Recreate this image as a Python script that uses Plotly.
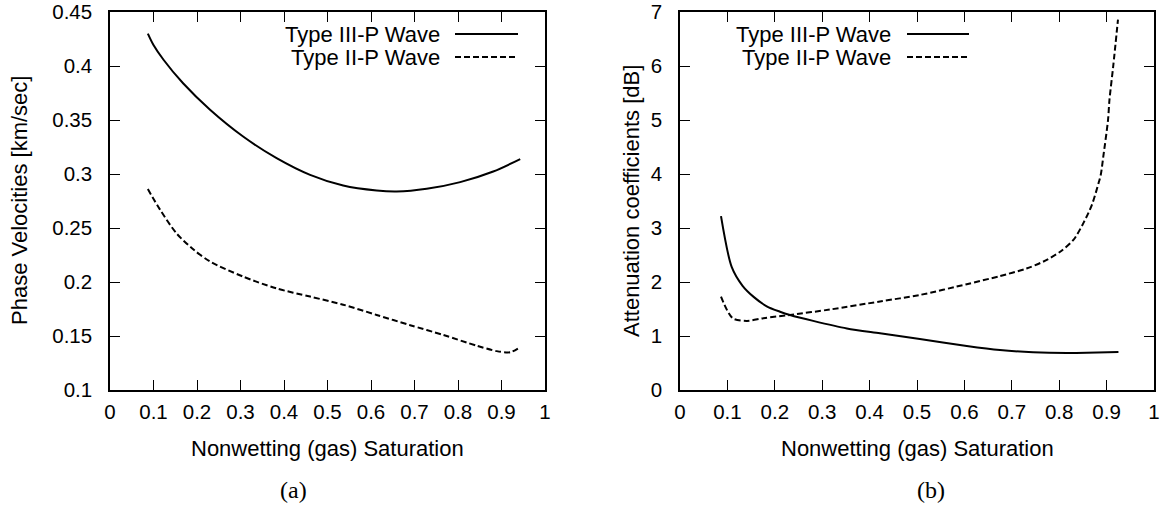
import plotly.graph_objects as go

# ---------------- data ----------------
# Panel (a): phase velocities [km/sec]
sat_a_III = [0.087, 0.0996, 0.123, 0.168, 0.230, 0.306, 0.383, 0.460, 0.536, 0.613, 0.659, 0.728, 0.805, 0.881, 0.943]
vel_III = [0.430, 0.4197, 0.4058, 0.384, 0.3595, 0.3347, 0.3147, 0.2992, 0.2893, 0.2847, 0.2838, 0.2863, 0.2925, 0.3023, 0.3138]

sat_a_II = [0.087, 0.115, 0.153, 0.192, 0.230, 0.306, 0.383, 0.460, 0.536, 0.613, 0.690, 0.766, 0.843, 0.889, 0.920, 0.944]
vel_II = [0.286, 0.267, 0.245, 0.230, 0.219, 0.205, 0.194, 0.1865, 0.179, 0.1695, 0.160, 0.151, 0.141, 0.136, 0.135, 0.140]

# Panel (b): attenuation coefficients [dB]
sat_b_III = [0.0865, 0.109, 0.132, 0.156, 0.183, 0.211, 0.232, 0.281, 0.352, 0.422, 0.506, 0.605, 0.675, 0.745, 0.816, 0.858, 0.925]
att_III = [3.22, 2.28, 1.93, 1.72, 1.55, 1.45, 1.39, 1.28, 1.14, 1.05, 0.944, 0.815, 0.74, 0.700, 0.686, 0.69, 0.706]

sat_b_II = [0.0865, 0.111, 0.141, 0.176, 0.232, 0.316, 0.422, 0.506, 0.605, 0.675, 0.731, 0.767, 0.802, 0.830, 0.851, 0.869, 0.883, 0.888, 0.893, 0.903, 0.906, 0.914, 0.924]
att_II = [1.73, 1.33, 1.28, 1.33, 1.39, 1.49, 1.64, 1.76, 1.96, 2.11, 2.25, 2.38, 2.56, 2.78, 3.09, 3.43, 3.83, 4.0, 4.32, 5.0, 5.37, 6.0, 6.86]

x_ticks = [0, 0.1, 0.2, 0.3, 0.4, 0.5, 0.6, 0.7, 0.8, 0.9, 1]
x_tick_labels = ["0", "0.1", "0.2", "0.3", "0.4", "0.5", "0.6", "0.7", "0.8", "0.9", "1"]
ya_ticks = [0.1, 0.15, 0.2, 0.25, 0.3, 0.35, 0.4, 0.45]
ya_tick_labels = ["0.1", "0.15", "0.2", "0.25", "0.3", "0.35", "0.4", "0.45"]
yb_ticks = [0, 1, 2, 3, 4, 5, 6, 7]
yb_tick_labels = ["0", "1", "2", "3", "4", "5", "6", "7"]

series_names = ["Type III-P Wave", "Type II-P Wave"]
x_title = "Nonwetting (gas) Saturation"
ya_title = "Phase Velocities [km/sec]"
yb_title = "Attenuation coefficients [dB]"
captions = ["(a)", "(b)"]

# ---------------- figure ----------------
W, H = 1176, 512
FONT = "Liberation Sans, Arial, Helvetica, sans-serif"
SERIF = "Liberation Serif, Times New Roman, serif"
FS = 22
FS_TICK = 20.5
DASH = "6px,3px"

fig = go.Figure()

def line_trace(x, y, xa, ya, dash):
    return go.Scatter(x=x, y=y, xaxis=xa, yaxis=ya, mode="lines",
                      line=dict(color="black", width=2, dash=dash, shape="spline", smoothing=0.8),
                      showlegend=False, hoverinfo="skip")

fig.add_trace(line_trace(sat_a_III, vel_III, "x", "y", "solid"))
fig.add_trace(line_trace(sat_a_II, vel_II, "x", "y", DASH))
fig.add_trace(line_trace(sat_b_III, att_III, "x2", "y2", "solid"))
fig.add_trace(line_trace(sat_b_II, att_II, "x2", "y2", DASH))

# pixel layout
a_left, a_right = 110, 545
b_left, b_right = 680, 1154
top, bottom = 12, 390

def px_x(p):
    return p / W

def px_y(p):
    return 1 - p / H

axis_common = dict(showline=True, linecolor="black", linewidth=1.5, mirror="ticks",
                   ticks="inside", ticklen=10, tickwidth=1, tickcolor="black",
                   showgrid=False, zeroline=False, automargin=False,
                   ticklabeloverflow="allow",
                   tickfont=dict(family=FONT, size=FS_TICK, color="black"))

fig.update_layout(
    width=W, height=H, autosize=False,
    margin=dict(l=0, r=0, t=0, b=0, pad=0),
    paper_bgcolor="white", plot_bgcolor="white",
    xaxis=dict(domain=[px_x(a_left), px_x(a_right)], range=[0, 1], anchor="y",
               tickvals=x_ticks, ticktext=x_tick_labels, ticklabelstandoff=3, **axis_common),
    yaxis=dict(domain=[px_y(bottom), px_y(top)], range=[0.1, 0.45], anchor="x",
               tickvals=ya_ticks, ticktext=ya_tick_labels, ticklabelstandoff=12, **axis_common),
    xaxis2=dict(domain=[px_x(b_left), px_x(b_right)], range=[0, 1], anchor="y2",
                tickvals=x_ticks, ticktext=x_tick_labels, ticklabelstandoff=3, **axis_common),
    yaxis2=dict(domain=[px_y(bottom), px_y(top)], range=[0, 7], anchor="x2",
                tickvals=yb_ticks, ticktext=yb_tick_labels, ticklabelstandoff=12, **axis_common),
)

annotations = []
shapes = []

def text_ann(x, y, text, xanchor="center", yanchor="middle", angle=0, family=FONT, size=FS):
    return dict(x=px_x(x), y=px_y(y), xref="paper", yref="paper", text=text,
                showarrow=False, xanchor=xanchor, yanchor=yanchor, textangle=angle,
                borderpad=0, font=dict(family=family, size=size, color="black"))

# axis titles
annotations.append(text_ann((a_left + a_right) / 2, 448, x_title))
annotations.append(text_ann((b_left + b_right) / 2, 448, x_title))
annotations.append(text_ann(19, (top + bottom) / 2, ya_title, angle=-90))
annotations.append(text_ann(631, (top + bottom) / 2, yb_title, angle=-90))

# captions
annotations.append(text_ann(293, 490, captions[0], family=SERIF, size=24))
annotations.append(text_ann(931, 490, captions[1], family=SERIF, size=24))

# legends (gnuplot style: text right-aligned, sample line to the right)
legend_specs = [(441, 455, 518), (892, 907, 969)]
row_y = [34, 57]
for (txt_right, l0, l1) in legend_specs:
    for name, ry, dash in zip(series_names, row_y, ["solid", DASH]):
        annotations.append(text_ann(txt_right, ry, name, xanchor="right"))
        shapes.append(dict(type="line", xref="paper", yref="paper",
                           x0=px_x(l0), x1=px_x(l1), y0=px_y(ry), y1=px_y(ry),
                           line=dict(color="black", width=2, dash=dash)))

fig.update_layout(annotations=annotations, shapes=shapes)

fig.write_html("out.html", config={"displayModeBar": False},
               post_script="document.body.style.margin='0px';")
